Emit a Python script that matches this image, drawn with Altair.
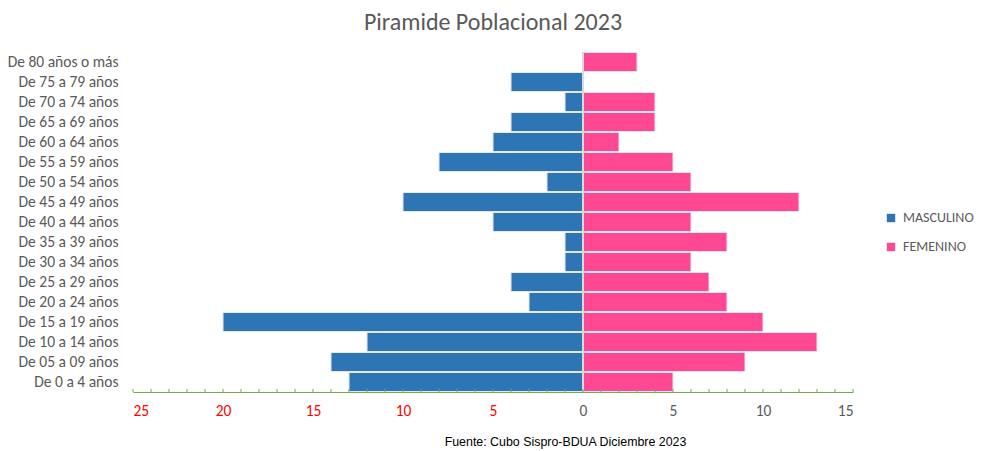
import altair as alt
import pandas as pd

categories = [
    "De 0 a 4 años", "De 05 a 09 años", "De 10 a 14 años", "De 15 a 19 años",
    "De 20 a 24 años", "De 25 a 29 años", "De 30 a 34 años", "De 35 a 39 años",
    "De 40 a 44 años", "De 45 a 49 años", "De 50 a 54 años", "De 55 a 59 años",
    "De 60 a 64 años", "De 65 a 69 años", "De 70 a 74 años", "De 75 a 79 años",
    "De 80 años o más",
]
masculino = [13, 14, 12, 20, 3, 4, 1, 1, 5, 10, 2, 8, 5, 4, 1, 4, 0]
femenino = [5, 9, 13, 10, 8, 7, 6, 8, 6, 12, 6, 5, 2, 4, 4, 0, 3]
sexes = ["MASCULINO", "FEMENINO"]
colors = ["#2E75B6", "#FF4894"]
tick_values = list(range(-25, 16))
label_values = list(range(-25, 16, 5))

rows = []
for c, m, f in zip(categories, masculino, femenino):
    rows.append({"grupo": c, "sexo": "MASCULINO", "valor": -m})
    rows.append({"grupo": c, "sexo": "FEMENINO", "valor": f})
df = pd.DataFrame(rows)

FONT = "Carlito, Lato, sans-serif"
GRAY = "#595959"

x_scale = alt.Scale(domain=[-25, 15], nice=False, zero=False)

bars = alt.Chart(df).mark_bar(stroke="#E4E9EE", strokeWidth=1).encode(
    x=alt.X(
        "valor:Q",
        scale=x_scale,
        axis=alt.Axis(
            values=label_values,
            labelExpr="abs(datum.value)",
            labelColor={"expr": "datum.value < 0 ? '#FF0000' : '#595959'"},
            ticks=False,
            grid=False,
            domainColor="#70AD47",
            domainWidth=1,
            labelFont=FONT,
            labelFontSize=15.5,
            labelPadding=11,
            title="Fuente: Cubo Sispro-BDUA Diciembre 2023",
            titleFont="Liberation Sans Narrow, Liberation Sans, Arial",
            titleFontSize=12.4,
            titleFontWeight="normal",
            titleColor="#000000",
            titleX=432,
            titleY=49,
            titleBaseline="middle",
            titleAlign="center",
        ),
    ),
    y=alt.Y(
        "grupo:N",
        sort=list(reversed(categories)),
        scale=alt.Scale(paddingInner=0.05, paddingOuter=0.025),
        axis=alt.Axis(
            title=None,
            ticks=False,
            domain=False,
            grid=False,
            labelPadding=15,
            labelFont=FONT,
            labelFontSize=15.5,
            labelColor=GRAY,
        ),
    ),
    color=alt.Color(
        "sexo:N",
        scale=alt.Scale(domain=sexes, range=colors),
        legend=alt.Legend(
            title=None,
            orient="none",
            legendX=751,
            legendY=159,
            symbolType="square",
            symbolSize=70,
            symbolStrokeWidth=0,
            labelFont=FONT,
            labelFontSize=14,
            labelColor=GRAY,
            labelOffset=5,
            rowPadding=15,
            padding=0,
        ),
    ),
)

zero_df = pd.DataFrame({"valor": [0]})
zero_line = alt.Chart(zero_df).mark_rule(color="#D9D9D9", strokeWidth=2).encode(
    x=alt.X("valor:Q", scale=x_scale)
)

tick_df = pd.DataFrame({"valor": tick_values})
tick_layer = alt.Chart(tick_df).mark_rule(color="#70AD47", strokeWidth=1).encode(
    x=alt.X("valor:Q", scale=x_scale),
    y=alt.value(337),
    y2=alt.value(340),
)

chart = alt.layer(bars, zero_line, tick_layer).properties(
    width=720,
    height=340,
    title=alt.TitleParams(
        "Piramide Poblacional 2023",
        font=FONT,
        fontSize=24,
        fontWeight="normal",
        color=GRAY,
        anchor="middle",
        offset=16,
    ),
    autosize=alt.AutoSizeParams(type="none"),
    padding={"left": 125, "top": 44, "right": 123, "bottom": 57},
).configure_view(stroke=None)

chart.save("out.html", embed_options={"renderer": "svg", "actions": False})
